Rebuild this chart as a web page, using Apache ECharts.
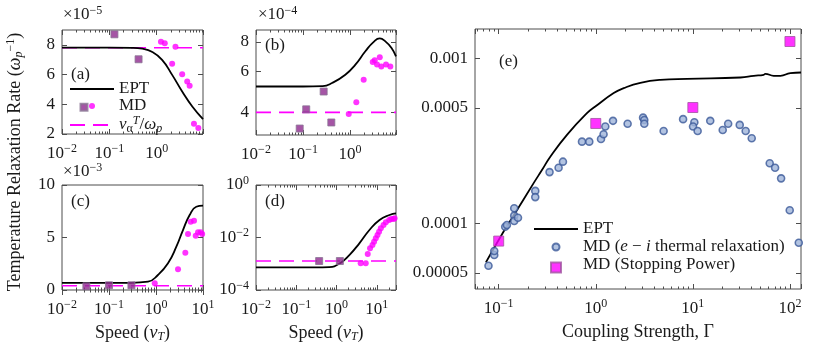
<!DOCTYPE html>
<html>
<head>
<meta charset="utf-8">
<script src="https://cdn.jsdelivr.net/npm/echarts@6.0.0/dist/echarts.min.js"></script>
<style>
  html, body { margin: 0; padding: 0; background: #fff; }
  #chart { width: 817px; height: 355px; }
</style>
</head>
<body>
<div id="chart"></div>
<script>
// ---- panel (a) ----
var aEptX = [0.01, 0.1, 0.3, 0.5, 0.79, 1.3, 2.12, 3.45, 5.64, 9.5];
var aEptY = [7.81e-5, 7.81e-5, 7.80e-5, 7.74e-5, 7.54e-5, 6.99e-5, 5.98e-5, 4.86e-5, 3.85e-5, 3.0e-5];
var aSqX = [0.128, 0.414];
var aSqY = [8.71e-5, 7.03e-5];
var aMdX = [1.23, 1.48, 2.49, 2.12, 3.45, 4.41, 4.96, 6.12, 7.57];
var aMdY = [8.21e-5, 8.11e-5, 7.88e-5, 6.72e-5, 6.03e-5, 5.53e-5, 5.24e-5, 2.69e-5, 2.40e-5];
var aNu = 7.81e-5;
var aYTicks = [2e-5, 4e-5, 6e-5, 8e-5];

// ---- panel (b) ----
var bEptX = [0.01, 0.1, 0.262, 0.414, 0.794, 1.30, 2.12, 3.19, 4.29, 5.64, 7.57, 9.5];
var bEptY = [5.16e-4, 5.16e-4, 5.18e-4, 5.34e-4, 5.79e-4, 6.40e-4, 7.30e-4, 8.01e-4, 8.28e-4, 8.05e-4, 7.55e-4, 6.94e-4];
var bSqX = [0.085, 0.117, 0.275, 0.40];
var bSqY = [3.41e-4, 4.12e-4, 4.91e-4, 3.62e-4];
var bMdX = [0.938, 1.36, 1.95, 3.04, 3.35, 4.29, 3.75, 4.63, 5.83, 7.19];
var bMdY = [3.94e-4, 4.42e-4, 5.51e-4, 6.57e-4, 6.68e-4, 6.88e-4, 6.40e-4, 6.29e-4, 6.40e-4, 6.29e-4];
var bNu = 4e-4;
var bYTicks = [4e-4, 6e-4, 8e-4];

// ---- panel (c) ----
var cEptX = [0.01, 0.3, 0.676, 1.10, 1.80, 2.71, 3.75, 5.20, 7.19, 10];
var cEptY = [0.68e-3, 0.68e-3, 0.79e-3, 1.43e-3, 2.54e-3, 4.12e-3, 5.71e-3, 7.14e-3, 7.93e-3, 8.03e-3];
var cSqX = [0.033, 0.1, 0.3];
var cSqY = [0.35e-3, 0.45e-3, 0.45e-3];
var cMdX = [0.94, 2.94, 4.21, 4.80, 5.47, 6.44, 7.0, 7.84, 8.93, 9.6];
var cMdY = [0.64e-3, 1.97e-3, 3.55e-3, 5.33e-3, 6.50e-3, 6.60e-3, 5.17e-3, 5.49e-3, 5.49e-3, 5.33e-3];
var cNu = 0.4e-3;
var cYTicks = [0, 5e-3, 1e-2];

// ---- panel (d) ----
var dEptX = [0.01, 0.3, 0.66, 1.17, 2.08, 3.69, 6.57, 11.7, 20.7, 30];
var dEptY = [7.3e-4, 7.3e-4, 7.5e-4, 1.0e-3, 2.15e-3, 6.0e-3, 0.0193, 0.0464, 0.072, 0.083];
var dSqX = [0.37, 1.21];
var dSqY = [1.27e-3, 1.27e-3];
var dMdX = [3.98, 5.31, 5.96, 6.80, 7.81, 8.56, 9.44, 10.4, 11.4, 12.6, 14.7, 16.8, 20.3, 22.8, 26.2, 27.7];
var dMdY = [1.04e-3, 1.04e-3, 2.35e-3, 3.88e-3, 5.18e-3, 6.92e-3, 9.33e-3, 0.01245, 0.0166, 0.0224, 0.0299, 0.0379, 0.0464, 0.0503, 0.0507, 0.0536];
var dNu = 1.27e-3;
var dYTicks = [1e-4, 1e-2, 1];

// ---- panel (e) ----
var eEptX = [0.0738, 0.112, 0.142, 0.229, 0.279, 0.340, 0.505, 0.811, 0.989, 1.53, 1.94, 2.88, 4.63, 8.71, 30.9, 42.4, 53.7, 55.8, 68.1, 79.8, 101, 130];
var eEptY = [5.8e-5, 8.89e-5, 1.11e-4, 1.75e-4, 2.10e-4, 2.53e-4, 3.43e-4, 4.64e-4, 5.09e-4, 6.14e-4, 6.58e-4, 7.08e-4, 7.38e-4, 7.49e-4, 7.63e-4, 7.81e-4, 7.92e-4, 8.03e-4, 7.81e-4, 7.81e-4, 8.11e-4, 8.18e-4];
var eMdX = [0.0785, 0.090, 0.090, 0.1167, 0.1215, 0.1445, 0.1445, 0.1445, 0.158, 0.238, 0.238, 0.334, 0.414, 0.459, 0.721, 0.857, 1.132, 1.203, 1.253, 1.504,
            2.128, 3.07, 3.16, 3.16, 5.00, 7.93, 10.36, 10.04, 11.2, 15.1, 20.3, 23.1, 30.4, 35.0, 40.4, 61.9, 70.3, 81.1, 99.5, 123.3];
var eMdY = [5.53e-5, 6.43e-5, 6.79e-5, 9.53e-5, 9.77e-5, 1.233e-4, 1.112e-4, 1.033e-4, 1.081e-4, 1.57e-4, 1.44e-4, 2.04e-4, 2.17e-4, 2.36e-4, 3.12e-4, 3.12e-4, 3.24e-4, 3.46e-4, 3.85e-4, 4.17e-4,
            4.00e-4, 4.36e-4, 4.22e-4, 4.00e-4, 3.62e-4, 4.27e-4, 4.09e-4, 3.85e-4, 3.62e-4, 4.17e-4, 3.67e-4, 4.00e-4, 3.94e-4, 3.62e-4, 3.27e-4, 2.31e-4, 2.17e-4, 1.87e-4, 1.20e-4, 7.62e-5];
var eSqX = [0.1, 1, 10, 100];
var eSqY = [7.8e-5, 4.02e-4, 5.02e-4, 1.26e-3];
var eYTicks = [5e-5, 1e-4, 5e-4, 1e-3];

var FONT = '"Liberation Serif", "DejaVu Serif", serif';
var TXT = '#1a1a1a';
var FRAME = '#4d4d4d';
var CLEAR = 'rgba(0,0,0,0)';

function rs(size, extra) {
  var o = { fontFamily: FONT, fontSize: size, color: TXT };
  for (var k in extra) o[k] = extra[k];
  return o;
}
var rich = {
  n: rs(17), nl: rs(18), it: rs(17, { fontStyle: 'italic' }), itl: rs(18, { fontStyle: 'italic' }),
  sup: rs(12, { padding: [0, 0, 9, 0] }), supi: rs(12, { fontStyle: 'italic', padding: [0, 0, 9, 0] }),
  sub: rs(12, { padding: [8, 0, 0, 0] }), subi: rs(12, { fontStyle: 'italic', padding: [8, 0, 0, 0] })
};

function pairs(xs, ys) { return xs.map(function (x, i) { return [x, ys[i]]; }); }
function powLabel(v) {
  var l = Math.log10(v), e = Math.round(l);
  if (Math.abs(l - e) > 1e-6) return '';
  return '{n|10}{sup|' + (e < 0 ? '\u2212' : '') + Math.abs(e) + '}';
}

var grids = [
  { left: 62, top: 30, width: 141, height: 104 },
  { left: 256, top: 30, width: 140, height: 105 },
  { left: 62, top: 185, width: 141, height: 105 },
  { left: 256, top: 185, width: 140, height: 105 },
  { left: 475, top: 29, width: 326, height: 260 }
].map(function (g) {
  g.show = true; g.borderColor = FRAME; g.borderWidth = 1; g.backgroundColor = '#fff';
  return g;
});

function xLog(gi, min, max, isTop, name, gap) {
  var ax = {
    type: 'log', gridIndex: gi, min: min, max: max, position: isTop ? 'top' : 'bottom',
    axisLine: { show: false },
    axisTick: { inside: true, length: 5, lineStyle: { color: FRAME } },
    minorTick: { show: true, splitNumber: 9, length: 2.5, lineStyle: { color: FRAME } },
    splitLine: { show: false },
    axisLabel: { show: !isTop, margin: 9, formatter: powLabel, rich: rich }
  };
  if (name && !isTop) {
    ax.name = name; ax.nameLocation = 'middle'; ax.nameGap = gap;
    ax.nameTextStyle = { rich: rich };
  }
  return ax;
}
function yAx(gi, type, min, max, ticks, fmt, isRight) {
  return {
    type: type, gridIndex: gi, min: min, max: max, position: isRight ? 'right' : 'left',
    axisLine: { show: false },
    axisTick: { inside: true, length: 5, customValues: ticks, lineStyle: { color: FRAME } },
    splitLine: { show: false },
    axisLabel: { show: !isRight, margin: 7, customValues: ticks, formatter: fmt, rich: rich }
  };
}
function scaled(k) { return function (v) { return '{n|' + Math.round(v * k) + '}'; }; }
function plain(v) { return '{n|' + Number(v.toPrecision(1)).toString() + '}'; }

var speedName = '{nl|Speed (}{itl|v}{subi|T}{nl|)}';
var xDefs = [[0, 0.01, 9.5, null], [1, 0.01, 9.5, null], [2, 0.01, 10, speedName], [3, 0.01, 30, speedName], [4, 0.057, 130, '{nl|Coupling Strength, \u0393}']];
var xAxes = [];
xDefs.forEach(function (d) {
  xAxes.push(xLog(d[0], d[1], d[2], false, d[3], d[0] === 4 ? 34 : 33));
  xAxes.push(xLog(d[0], d[1], d[2], true));
});
var yDefs = [
  [0, 'value', 2e-5, 9e-5, aYTicks, scaled(1e5)],
  [1, 'log', 3.2e-4, 9e-4, bYTicks, scaled(1e4)],
  [2, 'value', 0, 0.01, cYTicks, scaled(1e3)],
  [3, 'log', 1e-4, 1, dYTicks, powLabel],
  [4, 'log', 4e-5, 1.5e-3, eYTicks, plain]
];
var yAxes = [];
yDefs.forEach(function (d) {
  yAxes.push(yAx(d[0], d[1], d[2], d[3], d[4], d[5], false));
  yAxes.push(yAx(d[0], d[1], d[2], d[3], d[4], d[5], true));
});

function ept(gi, xs, ys) {
  return { name: 'EPT', type: 'line', xAxisIndex: 2 * gi, yAxisIndex: 2 * gi, data: pairs(xs, ys),
    symbol: 'none', smooth: 0.5, lineStyle: { color: '#000', width: 1.8 }, itemStyle: { color: '#000' }, z: 3 };
}
function nuLine(gi, nu, xmin, xmax) {
  return { name: 'nu', type: 'line', xAxisIndex: 2 * gi, yAxisIndex: 2 * gi, data: [[xmin, nu], [xmax, nu]],
    symbol: 'none', lineStyle: { color: '#ff00ff', width: 1.6, type: [15, 8] }, itemStyle: { color: '#ff00ff' }, z: 2 };
}
function mdDots(gi, xs, ys) {
  return { name: 'MD', type: 'scatter', xAxisIndex: 2 * gi, yAxisIndex: 2 * gi, data: pairs(xs, ys),
    symbol: 'circle', symbolSize: 6, itemStyle: { color: '#ff00ff' }, z: 4 };
}
function mdSq(gi, xs, ys) {
  return { name: 'MDsq', type: 'scatter', xAxisIndex: 2 * gi, yAxisIndex: 2 * gi, data: pairs(xs, ys),
    symbol: 'rect', symbolSize: 7, itemStyle: { color: '#8e2a8e', borderColor: '#8a7494', borderWidth: 1 }, z: 5 };
}

var series = [
  ept(0, aEptX, aEptY), nuLine(0, aNu, 0.01, 9.5), mdSq(0, aSqX, aSqY), mdDots(0, aMdX, aMdY),
  ept(1, bEptX, bEptY), nuLine(1, bNu, 0.01, 9.5), mdSq(1, bSqX, bSqY), mdDots(1, bMdX, bMdY),
  ept(2, cEptX, cEptY), nuLine(2, cNu, 0.01, 10), mdSq(2, cSqX, cSqY), mdDots(2, cMdX, cMdY),
  ept(3, dEptX, dEptY), nuLine(3, dNu, 0.01, 30), mdSq(3, dSqX, dSqY), mdDots(3, dMdX, dMdY),
  ept(4, eEptX, eEptY),
  { name: 'MDe', type: 'scatter', xAxisIndex: 8, yAxisIndex: 8, data: pairs(eMdX, eMdY), symbol: 'circle', symbolSize: 7,
    itemStyle: { color: '#9fb4da', borderColor: '#3b5998', borderWidth: 1.6 }, z: 4 },
  { name: 'MDsp', type: 'scatter', xAxisIndex: 8, yAxisIndex: 8, data: pairs(eSqX, eSqY), symbol: 'rect', symbolSize: 10,
    itemStyle: { color: '#ff00ff', borderColor: '#a055a0', borderWidth: 1 }, z: 5 }
];

var legendNames = {
  EPT: '{n|EPT}', MD: '{n|MD}', nu: '{it|\u03bd}{sub|\u03b1}{supi|T}{n|/}{it|\u03c9}{subi|p}',
  MDe: '{n|MD (}{it|e}{n| \u2212 }{it|i}{n| thermal relaxation)}', MDsp: '{n|MD (Stopping Power)}'
};
function legFmt(name) { return legendNames[name]; }
function noSymbol(name) { return { name: name, itemStyle: { color: CLEAR, borderColor: CLEAR, borderWidth: 0 } }; }
function blank() { return ''; }

function label(x, y, text, align) {
  return { type: 'text', x: x, y: y, z: 100,
    style: { text: text, rich: rich, fill: TXT, font: '17px ' + FONT, align: align || 'left', verticalAlign: 'middle' } };
}

var option = {
  animation: false,
  backgroundColor: '#fff',
  grid: grids,
  xAxis: xAxes,
  yAxis: yAxes,
  series: series,
  legend: [
    { data: [noSymbol('EPT'), 'MD', noSymbol('nu')], left: 69, top: 80.5, padding: 0, orient: 'vertical', itemWidth: 44, itemHeight: 6, itemGap: 0,
      selectedMode: false, formatter: legFmt, textStyle: { rich: rich } },
    { data: ['MDsq'], left: 79.5, top: 102.7, padding: 0, itemWidth: 7, itemHeight: 7, selectedMode: false, formatter: blank },
    { data: [noSymbol('EPT'), 'MDe', noSymbol('MDsp')], left: 533, top: 220.5, padding: 0, orient: 'vertical', itemWidth: 44, itemHeight: 7, itemGap: 1,
      selectedMode: false, formatter: legFmt, textStyle: { rich: rich } },
    { data: ['MDsp'], left: 550, top: 261.5, padding: 0, itemWidth: 10, itemHeight: 10, selectedMode: false, formatter: blank }
  ],
  graphic: [
    label(71, 75, '{n|(a)}'), label(265, 46, '{n|(b)}'), label(71, 202, '{n|(c)}'), label(265, 202, '{n|(d)}'), label(499, 62, '{n|(e)}'),
    label(63, 15, '{n|\u00d710}{sup|\u22125}'), label(258, 15, '{n|\u00d710}{sup|\u22124}'), label(63, 172, '{n|\u00d710}{sup|\u22123}'),
    { type: 'text', x: 15, y: 162, rotation: Math.PI / 2, z: 100,
      style: { text: '{nl|Temperature Relaxation Rate (}{itl|\u03c9}{subi|p}{sup|\u22121}{nl|)}', rich: rich,
        align: 'center', verticalAlign: 'middle', fill: TXT } }
  ]
};

var chart = echarts.init(document.getElementById('chart'));
chart.setOption(option);
</script>
</body>
</html>
